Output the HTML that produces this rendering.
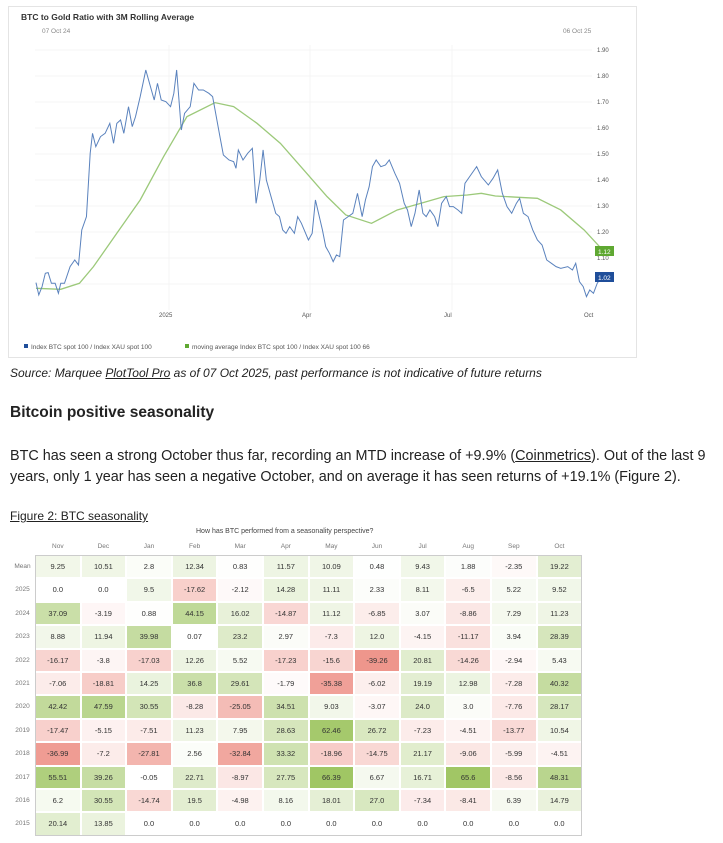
<!DOCTYPE html>
<html><head><meta charset="utf-8"><style>
body{margin:0;width:723px;height:843px;background:#fff;font-family:"Liberation Sans",sans-serif;position:relative;overflow:hidden;color:#222}
.a{position:absolute;white-space:nowrap}
#tbl div{position:absolute;text-align:center;font-size:7.5px;color:#333}
</style></head><body>
<div class="a" style="left:8px;top:6px;width:627px;height:350px;border:1px solid #e4e4e4"></div>
<div class="a" style="left:21px;top:12px;font-size:8.5px;font-weight:bold;color:#333">BTC to Gold Ratio with 3M Rolling Average</div>
<div class="a" style="left:42px;top:28px;font-size:6.5px;color:#888">07 Oct 24</div>
<div class="a" style="left:563px;top:28px;font-size:6.5px;color:#888">06 Oct 25</div>
<svg class="a" style="left:0;top:0" width="723" height="360">
<g font-size="6" fill="#555" font-family="Liberation Sans">
<text x="597" y="52">1.90</text><text x="597" y="78">1.80</text><text x="597" y="104">1.70</text><text x="597" y="130">1.60</text><text x="597" y="156">1.50</text><text x="597" y="182">1.40</text><text x="597" y="208">1.30</text><text x="597" y="234">1.20</text><text x="597" y="260">1.10</text>
<text x="159" y="317">2025</text><text x="302" y="317">Apr</text><text x="444" y="317">Jul</text><text x="584" y="317">Oct</text>
</g>
<g stroke="#f4f4f4" stroke-width="1"><line x1="35" x2="592" y1="50" y2="50"/><line x1="35" x2="592" y1="76" y2="76"/><line x1="35" x2="592" y1="102" y2="102"/><line x1="35" x2="592" y1="128" y2="128"/><line x1="35" x2="592" y1="154" y2="154"/><line x1="35" x2="592" y1="180" y2="180"/><line x1="35" x2="592" y1="206" y2="206"/><line x1="35" x2="592" y1="232" y2="232"/><line x1="35" x2="592" y1="258" y2="258"/><line x1="35" x2="592" y1="284" y2="284"/>
<line x1="169" x2="169" y1="45" y2="310"/><line x1="310" x2="310" y1="45" y2="310"/><line x1="452" x2="452" y1="45" y2="310"/></g>
<g transform="scale(0.4673,0.3333)" fill="none">
<polyline vector-effect="non-scaling-stroke" stroke="#9cc97a" stroke-width="1.3" points="77,865 130,868 170,850 200,800 250,700 300,600 350,470 400,350 460,308 500,320 550,370 600,430 650,510 700,590 740,645 795,670 850,630 900,610 950,590 1000,585 1030,580 1060,588 1110,592 1150,595 1200,630 1250,690 1293,755"/>
<polyline vector-effect="non-scaling-stroke" stroke="#5a82bd" stroke-width="1" points="77,848 83,885 90,860 97,820 103,818 110,850 118,850 125,880 130,850 138,850 150,800 160,780 168,795 175,690 185,650 193,460 198,400 205,440 215,410 225,400 235,370 243,430 250,370 258,360 265,400 275,320 283,380 290,350 300,290 312,210 320,250 330,300 337,250 345,300 355,305 365,320 372,280 378,210 388,390 395,340 407,320 415,250 425,270 435,270 447,280 455,290 470,405 478,465 490,480 500,485 505,505 510,450 520,480 530,460 540,445 548,610 556,540 563,450 570,540 580,590 590,640 598,650 605,690 612,700 620,680 630,700 637,650 645,670 660,720 668,700 675,600 685,660 690,690 697,740 705,760 713,785 720,765 727,770 735,660 745,650 755,640 765,580 775,650 782,600 790,560 797,500 805,480 815,500 825,495 833,480 845,520 855,550 865,610 872,630 880,680 888,640 897,570 905,640 912,650 920,630 930,650 937,680 945,610 955,590 962,620 970,620 980,630 988,640 995,550 1005,530 1020,500 1030,530 1045,555 1055,535 1065,510 1075,580 1085,620 1095,640 1105,610 1112,595 1120,640 1130,650 1140,690 1150,720 1160,735 1170,780 1180,790 1190,800 1200,805 1215,800 1225,810 1232,790 1240,845 1248,860 1255,890 1262,870 1270,880 1278,850 1285,835 1293,830"/>
</g>
<rect x="595" y="246" width="19" height="10" fill="#5fa832"/><text x="598" y="254" font-size="6.5" fill="#fff">1.12</text>
<rect x="595" y="272" width="19" height="10" fill="#1f4e9a"/><text x="598" y="280" font-size="6.5" fill="#fff">1.02</text>
<rect x="24" y="344" width="4" height="4" fill="#1f4e9a"/><text x="31" y="349" font-size="6.5" fill="#555">Index BTC spot 100 / Index XAU spot 100</text>
<rect x="185" y="344" width="4" height="4" fill="#5fa832"/><text x="192" y="349" font-size="6.5" fill="#555">moving average Index BTC spot 100 / Index XAU spot 100 66</text>
</svg>
<div class="a" style="left:10px;top:366px;font-size:12px;font-style:italic;color:#222">Source: Marquee <span style="text-decoration:underline">PlotTool Pro</span> as of 07 Oct 2025, past performance is not indicative of future returns</div>
<div class="a" style="left:10px;top:404px;font-size:15.5px;font-weight:bold;color:#222">Bitcoin positive seasonality</div>
<div class="a" style="left:10px;top:446px;font-size:14.4px;line-height:21px;color:#222;white-space:normal;width:712px">BTC has seen a strong October thus far, recording an MTD increase of +9.9% (<span style="text-decoration:underline">Coinmetrics</span>). Out of the last 9 years, only 1 year has seen a negative October, and on average it has seen returns of +19.1% (Figure 2).</div>
<div class="a" style="left:10px;top:509px;font-size:12px;text-decoration:underline;color:#222">Figure 2: BTC seasonality</div>
<div class="a" style="left:196px;top:528px;font-size:7px;color:#444">How has BTC performed from a seasonality perspective?</div>
<div id="tbl"></div>
<script>
var m=["Nov","Dec","Jan","Feb","Mar","Apr","May","Jun","Jul","Aug","Sep","Oct"];
var r=[["Mean",9.25,10.51,2.8,12.34,0.83,11.57,10.09,0.48,9.43,1.88,-2.35,19.22],
["2025",0.0,0.0,9.5,-17.62,-2.12,14.28,11.11,2.33,8.11,-6.5,5.22,9.52],
["2024",37.09,-3.19,0.88,44.15,16.02,-14.87,11.12,-6.85,3.07,-8.86,7.29,11.23],
["2023",8.88,11.94,39.98,0.07,23.2,2.97,-7.3,12.0,-4.15,-11.17,3.94,28.39],
["2022",-16.17,-3.8,-17.03,12.26,5.52,-17.23,-15.6,-39.26,20.81,-14.26,-2.94,5.43],
["2021",-7.06,-18.81,14.25,36.8,29.61,-1.79,-35.38,-6.02,19.19,12.98,-7.28,40.32],
["2020",42.42,47.59,30.55,-8.28,-25.05,34.51,9.03,-3.07,24.0,3.0,-7.76,28.17],
["2019",-17.47,-5.15,-7.51,11.23,7.95,28.63,62.46,26.72,-7.23,-4.51,-13.77,10.54],
["2018",-36.99,-7.2,-27.81,2.56,-32.84,33.32,-18.96,-14.75,21.17,-9.06,-5.99,-4.51],
["2017",55.51,39.26,-0.05,22.71,-8.97,27.75,66.39,6.67,16.71,65.6,-8.56,48.31],
["2016",6.2,30.55,-14.74,19.5,-4.98,8.16,18.01,27.0,-7.34,-8.41,6.39,14.79],
["2015",20.14,13.85,0.0,0.0,0.0,0.0,0.0,0.0,0.0,0.0,0.0,0.0]];
var h="",x0=35,w=45.6,y0=555,rh=23.4;
function col(v){var t,a;if(v>=0){t=Math.min(1,v/66);a=[160,198,100];}else{t=Math.min(1,-v/40);a=[238,148,138];}
return "rgb("+[0,1,2].map(function(i){return Math.round(255+(a[i]-255)*t)}).join(",")+")";}
for(var j=0;j<12;j++)h+='<div style="left:'+(x0+j*w)+'px;top:543px;width:'+w+'px;font-size:6.5px;color:#777">'+m[j]+'</div>';
h+='<div style="left:'+x0+'px;top:'+y0+'px;width:'+(12*w)+'px;height:'+(12*rh)+'px;border:1px solid #ccc;box-sizing:border-box"></div>';
for(var i=0;i<12;i++){var y=y0+i*rh;
h+='<div style="left:10px;top:'+(y+8)+'px;width:25px;font-size:6.5px;color:#777">'+r[i][0]+'</div>';
for(var j=0;j<12;j++){var v=r[i][j+1];var s=String(v);if(Number.isInteger(v))s=v.toFixed(1);
h+='<div style="left:'+(x0+j*w+1)+'px;top:'+(y+1)+'px;width:'+(w-2)+'px;height:'+(rh-2)+'px;line-height:'+(rh-2)+'px;background:'+col(v)+'">'+s+'</div>';}}
document.getElementById("tbl").innerHTML=h;
</script>
</body></html>
